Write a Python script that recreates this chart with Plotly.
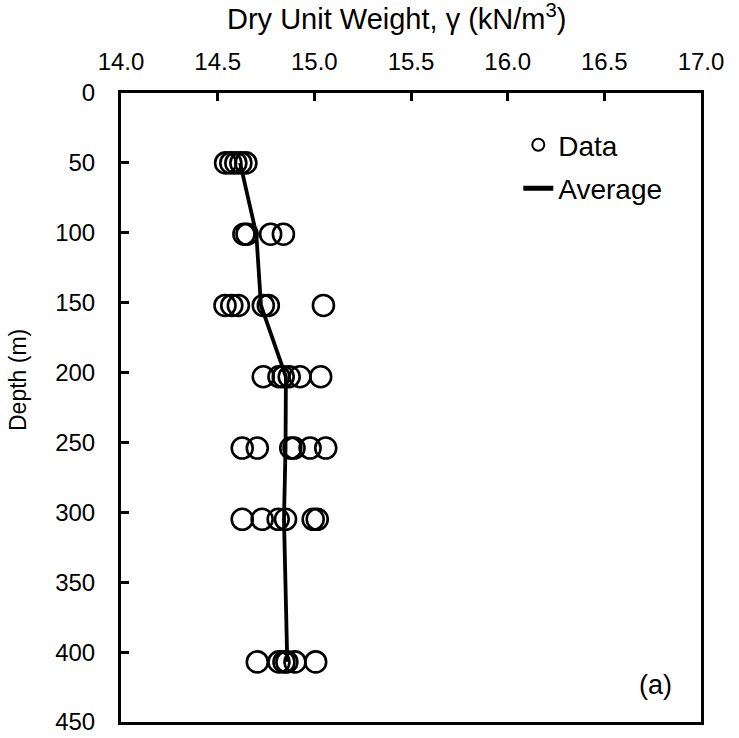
import plotly.graph_objects as go

# Measured dry unit weight (kN/m^3) at each depth (m)
data_depth = [50, 50, 50, 50, 50,
              101, 101, 101, 101,
              152, 152, 152, 152, 152, 152,
              203, 203, 203, 203, 203, 203,
              254, 254, 254, 254, 254, 254,
              305, 305, 305, 305, 305, 305,
              407, 407, 407, 407, 407, 407]
data_gamma = [14.541, 14.568, 14.594, 14.620, 14.646,
              14.636, 14.652, 14.774, 14.840,
              14.538, 14.573, 14.607, 14.736, 14.762, 15.047,
              14.736, 14.817, 14.839, 14.870, 14.926, 15.033,
              14.627, 14.705, 14.878, 14.895, 14.978, 15.059,
              14.627, 14.730, 14.813, 14.851, 14.994, 15.015,
              14.705, 14.817, 14.843, 14.858, 14.900, 15.007]

avg_depth = [50, 101, 152, 203, 254, 305, 407]
avg_gamma = [14.616, 14.700, 14.724, 14.853, 14.851, 14.843, 14.860]

x_ticks = [14.0, 14.5, 15.0, 15.5, 16.0, 16.5, 17.0]
y_ticks = [0, 50, 100, 150, 200, 250, 300, 350, 400, 450]

FONT = "Liberation Sans, Arial, sans-serif"

fig = go.Figure()
fig.add_trace(go.Scatter(
    x=data_gamma, y=data_depth, mode="markers", name="Data", legendgroup="d",
    marker=dict(symbol="circle-open", size=21, color="black",
                line=dict(width=2.6, color="black")),
))
fig.add_trace(go.Scatter(
    x=avg_gamma, y=avg_depth, mode="lines", name="Average", legendgroup="a",
    line=dict(color="black", width=3.8),
))

fig.update_layout(
    width=739, height=738,
    margin=dict(l=121, r=38, t=93, b=16, autoexpand=False),
    paper_bgcolor="white", plot_bgcolor="white",
    font=dict(family=FONT, size=24, color="black"),
    showlegend=True,
    legend=dict(x=0.685, y=0.957, xanchor="left", yanchor="top",
                bgcolor="rgba(0,0,0,0)", font=dict(size=28, family=FONT),
                itemsizing="constant", traceorder="grouped", tracegroupgap=4),
    xaxis=dict(
        range=[14, 17], side="top", tickvals=x_ticks,
        ticktext=[f"{v:.1f}" for v in x_ticks],
        ticks="inside", ticklen=8, tickwidth=3, tickcolor="black",
        showline=True, linecolor="black", linewidth=3, mirror=True,
        showgrid=False, zeroline=False, automargin=False,
        tickfont=dict(size=24, family=FONT),
        ticklabelstandoff=10,
    ),
    yaxis=dict(
        range=[450, 0], tickvals=y_ticks,
        ticks="inside", ticklen=8, tickwidth=3, tickcolor="black",
        showline=True, linecolor="black", linewidth=3, mirror=True,
        showgrid=False, zeroline=False, automargin=False,
        tickfont=dict(size=24, family=FONT),
        ticklabelstandoff=18,
    ),
    annotations=[
        dict(text="Dry Unit Weight, γ (kN/m<sup>3</sup>)", xref="paper", yref="paper",
             x=0.475, y=1.121, showarrow=False, xanchor="center", yanchor="middle",
             font=dict(size=29, family=FONT)),
        dict(text="Depth (m)", xref="paper", yref="paper",
             x=-0.1776, y=0.5437, showarrow=False, textangle=-90,
             xanchor="center", yanchor="middle", font=dict(size=23, family=FONT)),
        dict(text="(a)", xref="paper", yref="paper",
             x=0.9207, y=0.0588, showarrow=False, xanchor="center", yanchor="middle",
             font=dict(size=27, family=FONT)),
    ],
)

fig.write_html("out.html")
